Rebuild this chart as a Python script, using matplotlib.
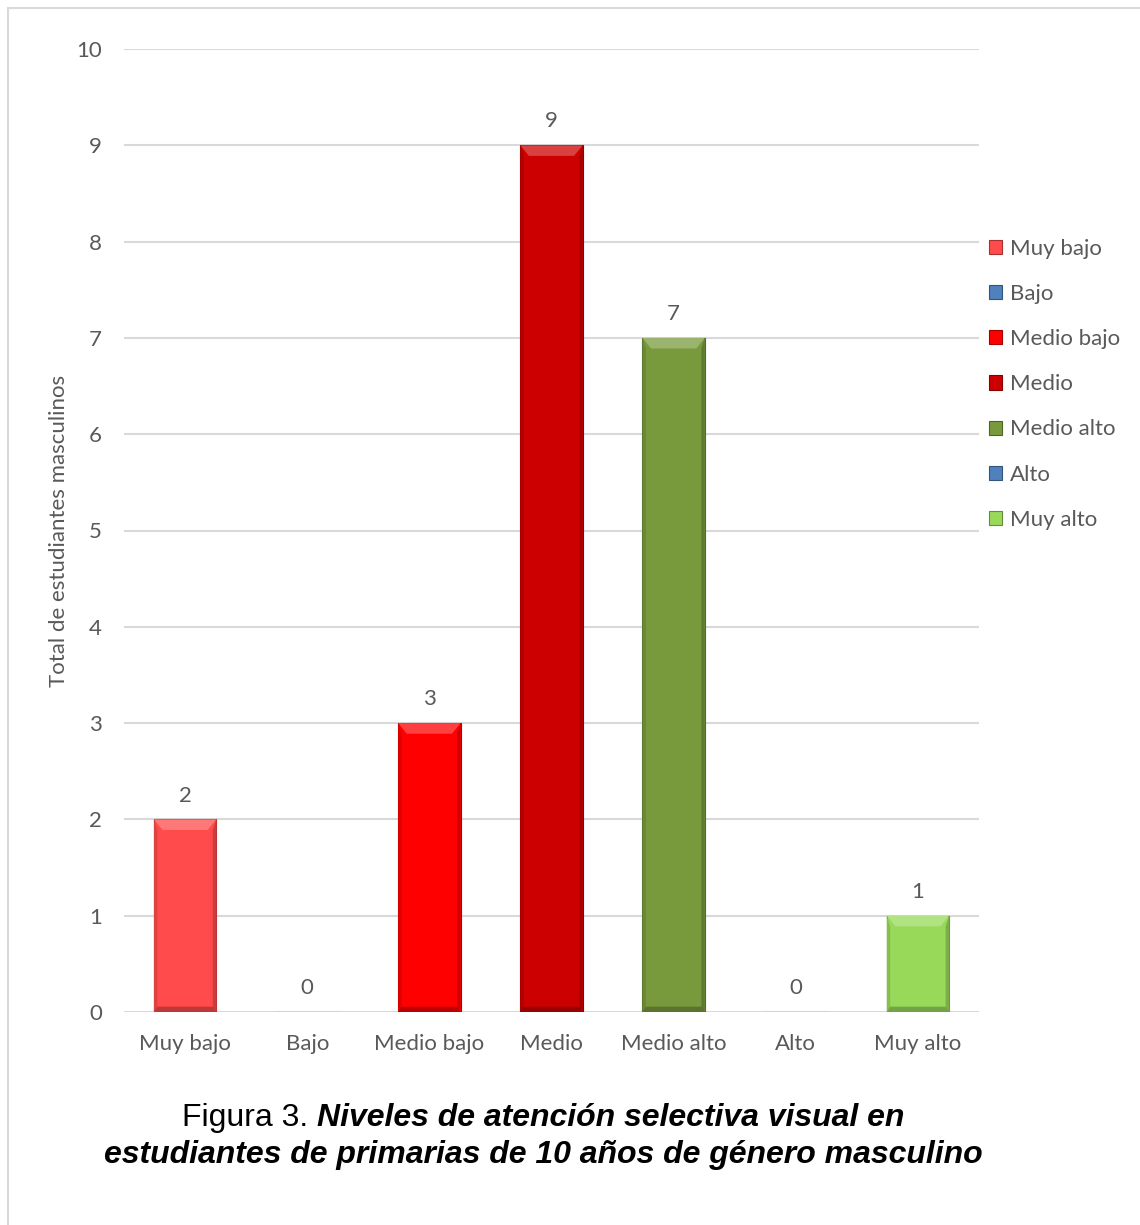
import matplotlib
matplotlib.use("Agg")
import matplotlib.pyplot as plt
from matplotlib.patches import Polygon, Patch, Rectangle
from matplotlib.colors import to_rgb

plt.rcParams['font.family'] = ['Lato', 'DejaVu Sans']

categories = ["Muy bajo", "Bajo", "Medio bajo", "Medio", "Medio alto", "Alto", "Muy alto"]
values = [2, 0, 3, 9, 7, 0, 1]
colors = ["#FF4B4B", "#4F81BD", "#FF0000", "#CC0000", "#789A3C", "#4F81BD", "#98D95A"]
y_ticks = [0, 1, 2, 3, 4, 5, 6, 7, 8, 9, 10]
y_label = "Total de estudiantes masculinos"
caption_prefix = "Figura 3. "
caption_line1 = "Niveles de atención selectiva visual en"
caption_line2 = "estudiantes de primarias de 10 años de género masculino"

TEXT = "#595959"
GRID = "#D9D9D9"
FS = 16


def shade(c, f):
    r, g, b = to_rgb(c)
    if f >= 0:
        return (r + (1 - r) * f, g + (1 - g) * f, b + (1 - b) * f)
    return (r * (1 + f), g * (1 + f), b * (1 + f))


fig = plt.figure(figsize=(11.4, 12.25), dpi=100)

# outer frame of the chart area
fig.patches.append(Rectangle((8 / 1140, -0.01), 1.2, 1 - 8 / 1225 + 0.01,
                             transform=fig.transFigure, fill=False,
                             edgecolor="#D9D9D9", linewidth=1.5))

ax = fig.add_axes([124 / 1140, 1 - 1012 / 1225, (979 - 124) / 1140, (1012 - 49) / 1225])
x = list(range(len(categories)))
width = 0.51
ax.bar(x, values, width=width, color=colors,
       edgecolor=[shade(c, -0.3) for c in colors], linewidth=0.8, zorder=3)

# bevel shading on each bar
dy = 0.11
dx = 0.07
for xi, v, c in zip(x, values, colors):
    if v <= 0:
        continue
    l, r = xi - width / 2, xi + width / 2
    ax.add_patch(Polygon([(l, v), (r, v), (r - dx, v - dy), (l + dx, v - dy)],
                         closed=True, facecolor=shade(c, 0.25), edgecolor="none", zorder=4))
    ax.add_patch(Polygon([(l, v), (l + dx * 0.4, v - dy), (l + dx * 0.4, 0), (l, 0)],
                         closed=True, facecolor=shade(c, -0.12), edgecolor="none", zorder=4))
    ax.add_patch(Polygon([(r, v), (r - dx * 0.4, v - dy), (r - dx * 0.4, 0), (r, 0)],
                         closed=True, facecolor=shade(c, -0.2), edgecolor="none", zorder=4))
    ax.add_patch(Polygon([(l, 0), (r, 0), (r - dx * 0.4, dy * 0.5), (l + dx * 0.4, dy * 0.5)],
                         closed=True, facecolor=shade(c, -0.25), edgecolor="none", zorder=4))

for xi, v in zip(x, values):
    ax.annotate(str(v), (xi, v), xytext=(0, 10), textcoords="offset points",
                ha="center", va="bottom", fontsize=FS, color=TEXT, zorder=5)

ax.set_xlim(-0.5, len(categories) - 0.5)
ax.set_ylim(0, 10)
ax.set_yticks(y_ticks)
ax.set_xticks(x)
ax.set_xticklabels(categories)
ax.tick_params(axis="both", length=0, labelsize=FS, labelcolor=TEXT)
ax.tick_params(axis="y", pad=16)
ax.tick_params(axis="x", pad=16)
ax.grid(axis="y", color=GRID, linewidth=1.5, zorder=0)
ax.set_axisbelow(True)
for s in ax.spines.values():
    s.set_visible(False)
ax.axhline(0, color=GRID, linewidth=1.8, zorder=2)
ax.set_ylabel(y_label, fontsize=FS, color=TEXT, labelpad=5)

handles = [Patch(facecolor=c, edgecolor=shade(c, -0.35), linewidth=0.8) for c in colors]
fig.legend(handles, categories, loc="upper left",
           bbox_to_anchor=(989 / 1140, 1 - 239 / 1225), frameon=False,
           fontsize=FS, labelcolor=TEXT, handlelength=0.6, handleheight=0.6,
           handletextpad=0.35, labelspacing=1.13, borderaxespad=0, borderpad=0)

cap_font = ["Liberation Sans", "DejaVu Sans"]
CFS = 23
t1 = fig.text(0, 0, caption_prefix, fontsize=CFS, family=cap_font, color="black")
t2 = fig.text(0, 0, caption_line1, fontsize=CFS, family=cap_font, style="italic",
              weight="bold", color="black")
fig.canvas.draw()
rend = fig.canvas.get_renderer()
w1 = t1.get_window_extent(rend).width
w2 = t2.get_window_extent(rend).width
cx = 543
start = cx - (w1 + w2) / 2
t1.set_position((start / 1140, 1 - 1126 / 1225))
t2.set_position(((start + w1) / 1140, 1 - 1126 / 1225))
fig.text(cx / 1140, 1 - 1163 / 1225, caption_line2, fontsize=CFS, family=cap_font,
         style="italic", weight="bold", color="black", ha="center")

fig.savefig("out.png", dpi=100)
